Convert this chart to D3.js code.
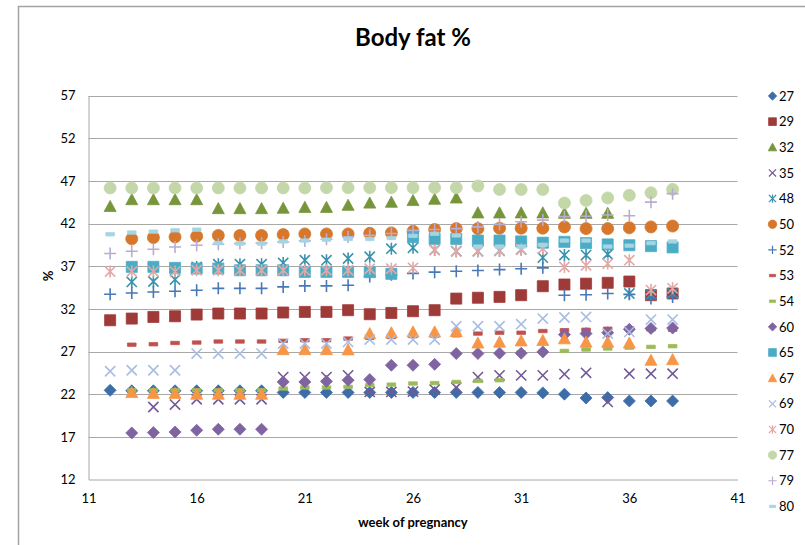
<!DOCTYPE html>
<html>
<head>
<meta charset="utf-8">
<script src="https://cdn.jsdelivr.net/npm/d3@7"></script>
<style>
  body { margin: 0; background: #fff; }
  text { font-family: Lato, "Liberation Sans", sans-serif; fill: #000; }
</style>
</head>
<body>
<svg id="chart" width="805" height="545"></svg>
<script>
// Week of pregnancy for every measurement column
const weeks = [12, 13, 14, 15, 16, 17, 18, 19, 20, 21, 22, 23, 24, 25, 26, 27, 28, 29, 30, 31, 32, 33, 34, 35, 36, 37, 38];

// Body fat % per subject, one value per week (null = not measured)
const s27 = [22.45, 22.4, 22.4, 22.4, 22.4, 22.4, 22.4, 22.4, 22.2, 22.2, 22.2, 22.2, 22.2, 22.2, 22.2, 22.2, 22.2, 22.2, 22.2, 22.2, 22.15, 22.0, 21.55, 21.6, 21.2, 21.2, 21.2];
const s29 = [30.66, 30.86, 31.05, 31.13, 31.33, 31.45, 31.45, 31.45, 31.57, 31.64, 31.64, 31.84, 31.37, 31.52, 31.72, 31.84, 33.2, 33.3, 33.4, 33.6, 34.65, 34.85, 34.95, 35.05, 35.2, 33.6, 33.8];
const s32 = [44.0, 44.8, 44.8, 44.8, 44.8, 43.75, 43.75, 43.75, 43.8, 43.9, 43.9, 44.14, 44.4, 44.5, 44.7, 44.85, 45.0, 43.25, 43.25, 43.25, 43.25, 43.2, 43.2, 43.2, null, null, null];
const s35 = [null, null, 20.5, 20.78, 21.4, 21.4, 21.4, 21.4, 24.0, 24.0, 24.0, 24.2, 22.26, 22.26, 22.3, 22.54, 22.78, 24.0, 24.2, 24.2, 24.2, 24.35, 24.5, 21.1, 24.4, 24.4, 24.4];
const s48 = [null, 35.15, 35.2, 35.43, 36.9, 37.23, 37.23, 37.23, 37.38, 37.7, 37.7, 37.9, 38.1, 39.05, 39.15, 38.9, 38.75, 38.75, 38.8, 38.95, 38.0, 38.3, 38.3, 38.4, 33.8, 33.7, 33.8];
const s50 = [null, 40.2, 40.35, 40.43, 40.5, 40.6, 40.6, 40.6, 40.7, 40.78, 40.78, 40.78, 40.85, 40.9, 41.1, 41.3, 41.4, 41.4, 41.45, 41.45, 41.45, 41.6, 41.4, 41.4, 41.5, 41.6, 41.7];
const s52 = [33.71, 33.86, 33.98, 34.06, 34.18, 34.4, 34.4, 34.4, 34.57, 34.69, 34.69, 34.77, 35.8, 36.0, 36.15, 36.3, 36.4, 36.5, 36.6, 36.7, 36.8, 33.6, 33.65, 33.8, 33.7, 33.2, 33.4];
const s53 = [null, 27.8, 27.85, 28.0, 28.05, 28.17, 28.17, 28.17, 28.25, 28.32, 28.32, 28.52, 28.6, 28.7, 28.8, 28.85, 28.9, 29.1, 29.2, 29.2, 29.4, 29.5, 29.55, 29.67, 29.7, 29.6, 29.55];
const s54 = [null, 22.46, 22.46, 22.46, 22.46, 22.46, 22.46, 22.46, 22.66, 22.78, 22.78, 22.85, 23.05, 23.12, 23.25, 23.3, 23.43, 23.55, 23.63, 26.9, 27.0, 27.07, 27.23, 27.35, 27.45, 27.54, 27.62];
const s60 = [null, 17.46, 17.5, 17.57, 17.77, 17.89, 17.89, 17.89, 23.43, 23.43, 23.5, 23.63, 23.71, 25.39, 25.39, 25.5, 26.76, 26.76, 26.8, 26.8, 26.95, 28.98, 29.1, 29.2, 29.6, 29.7, 29.75];
const s65 = [null, 36.92, 36.92, 36.8, 36.72, 36.72, 36.52, 36.52, 36.52, 36.33, 36.33, 36.33, 36.3, 36.1, 40.4, 40.2, 40.2, 40.0, 40.0, 39.9, 39.75, 39.85, 39.7, 39.55, 39.45, 39.35, 39.2];
const s67 = [null, 22.2, 22.1, 22.1, 22.0, 22.0, 22.0, 22.0, 27.23, 27.23, 27.23, 27.2, 29.1, 29.2, 29.3, 29.3, 29.35, 28.0, 28.1, 28.25, 28.3, 28.5, 28.1, 28.1, 28.0, 25.98, 26.05];
const s69 = [24.69, 24.8, 24.8, 24.8, 26.76, 26.76, 26.76, 26.76, 27.93, 27.93, 27.93, 28.12, 28.4, 28.4, 28.4, 28.4, 29.96, 29.96, 29.96, 30.2, 30.86, 30.98, 31.05, 29.1, 29.3, 30.74, 30.74];
const s70 = [36.37, 36.37, 36.37, 36.37, 36.52, 36.52, 36.52, 36.52, 36.52, 36.52, 36.52, 36.52, 36.7, 36.7, 36.8, 38.9, 38.75, 38.75, 38.8, 38.95, 39.05, 36.9, 37.1, 37.3, 37.7, 34.2, 34.4];
const s77 = [46.17, 46.17, 46.17, 46.17, 46.17, 46.17, 46.17, 46.17, 46.17, 46.17, 46.2, 46.2, 46.2, 46.2, 46.2, 46.2, 46.2, 46.4, 45.98, 45.98, 45.98, 44.4, 44.7, 45.0, 45.3, 45.6, 46.0];
const s79 = [38.48, 38.75, 38.98, 39.25, 39.45, 39.57, 39.65, 39.7, 39.84, 39.96, 40.16, 40.43, 40.63, 40.82, 41.2, 41.3, 41.4, 41.6, 41.9, 42.2, 42.4, 42.8, 42.85, 43.0, 42.9, 44.5, 45.5];
const s80 = [40.74, 40.94, 41.05, 41.2, 41.28, 39.7, 39.65, 39.65, 39.9, 40.0, 40.1, 40.2, 40.2, 40.3, 40.55, 40.8, 40.6, 39.3, 39.3, 39.3, 39.5, 40.0, 40.0, 39.3, 39.4, 39.7, 39.9];

const seriesNames = ["27", "29", "32", "35", "48", "50", "52", "53", "54", "60", "65", "67", "69", "70", "77", "79", "80"];
const seriesValues = [s27, s29, s32, s35, s48, s50, s52, s53, s54, s60, s65, s67, s69, s70, s77, s79, s80];

const yTicks = [12, 17, 22, 27, 32, 37, 42, 47, 52, 57];
const xTicks = [11, 16, 21, 26, 31, 36, 41];

const chartTitle = "Body fat %";
const xTitle = "week of pregnancy";
const yTitle = "%";

// Marker look for each series, in series order
const markerStyle = [
  { shape: "diamond",  color: "#3D6DA8" },
  { shape: "square",   color: "#9E3B38" },
  { shape: "triangle", color: "#77953B" },
  { shape: "x",        color: "#725996" },
  { shape: "asterisk", color: "#3A93AB" },
  { shape: "circle",   color: "#D6772B" },
  { shape: "plus",     color: "#4778B8" },
  { shape: "dash",     color: "#C0504D" },
  { shape: "dash",     color: "#9BBB59" },
  { shape: "diamond",  color: "#8064A2" },
  { shape: "square",   color: "#4BACC6" },
  { shape: "triangle", color: "#F79646" },
  { shape: "x",        color: "#A9BCE2" },
  { shape: "asterisk", color: "#E3A8A6" },
  { shape: "circle",   color: "#C4D7A9" },
  { shape: "plus",     color: "#B9ACD0" },
  { shape: "dash",     color: "#A5D5E3" }
];

const svg = d3.select("#chart");
svg.append("rect").attr("width", 805).attr("height", 545).attr("fill", "#fff");

// outer chart frame (top and left edges)
svg.append("path")
  .attr("d", "M18.5,545 V6.5 H805")
  .attr("fill", "none").attr("stroke", "#a3a3a3").attr("stroke-width", 1.5);

const x = d3.scaleLinear().domain([11, 41]).range([88.5, 737.5]);
const y = d3.scaleLinear().domain([12, 57]).range([479.5, 95.5]);

// horizontal gridlines
svg.append("g")
  .selectAll("line")
  .data(yTicks.filter(t => t !== 12))
  .join("line")
  .attr("x1", x(11)).attr("x2", x(41))
  .attr("y1", d => Math.round(y(d)) + 0.5).attr("y2", d => Math.round(y(d)) + 0.5)
  .attr("stroke", "#a8a8a8").attr("stroke-width", 1);

// axes
const yAxis = d3.axisLeft(y).tickValues(yTicks).tickSize(0).tickPadding(13).tickFormat(d3.format("d"));
const gy = svg.append("g").attr("transform", `translate(${x(11)},0)`).call(yAxis);
gy.select(".domain").attr("stroke", "#a8a8a8");
gy.selectAll("text").attr("font-size", 13).attr("font-family", "Lato, sans-serif").attr("fill", "#000");

const xAxis = d3.axisBottom(x).tickValues(xTicks).tickSize(0).tickPadding(14).tickFormat(d3.format("d"));
const gx = svg.append("g").attr("transform", `translate(0,${y(12)})`).call(xAxis);
gx.select(".domain").attr("stroke", "#a8a8a8");
gx.selectAll("text").attr("font-size", 13).attr("font-family", "Lato, sans-serif").attr("fill", "#000");

// marker path builders (r = half-size in px)
function markerPath(shape, r) {
  const p = d3.path();
  switch (shape) {
    case "diamond":
      p.moveTo(0, -r); p.lineTo(r, 0); p.lineTo(0, r); p.lineTo(-r, 0); p.closePath(); break;
    case "square":
      p.rect(-r * 0.92, -r * 0.92, r * 1.84, r * 1.84); break;
    case "triangle":
      p.moveTo(0, -r); p.lineTo(r, r * 0.85); p.lineTo(-r, r * 0.85); p.closePath(); break;
    case "circle":
      p.arc(0, 0, r, 0, 2 * Math.PI); break;
    case "x":
      p.moveTo(-r * 0.85, -r * 0.85); p.lineTo(r * 0.85, r * 0.85);
      p.moveTo(-r * 0.85, r * 0.85); p.lineTo(r * 0.85, -r * 0.85); break;
    case "asterisk":
      p.moveTo(-r * 0.85, -r * 0.85); p.lineTo(r * 0.85, r * 0.85);
      p.moveTo(-r * 0.85, r * 0.85); p.lineTo(r * 0.85, -r * 0.85);
      p.moveTo(0, -r); p.lineTo(0, r); break;
    case "plus":
      p.moveTo(-r, 0); p.lineTo(r, 0); p.moveTo(0, -r); p.lineTo(0, r); break;
    case "dash":
      p.rect(-r * 0.72, -r * 0.28, r * 1.44, r * 0.56); break;
  }
  return p.toString();
}
const strokeOnly = new Set(["x", "asterisk", "plus"]);

function styleMarker(sel, st, scale) {
  if (strokeOnly.has(st.shape)) {
    sel.attr("fill", "none").attr("stroke", st.color).attr("stroke-width", 1.6 * scale);
  } else {
    sel.attr("fill", st.color).attr("stroke", st.color).attr("stroke-width", 0.8);
  }
}

// points for every series, drawn in legend order
const plot = svg.append("g");
seriesValues.forEach((vals, i) => {
  const st = markerStyle[i];
  const pts = weeks.map((w, j) => ({ w, v: vals[j] })).filter(d => d.v != null);
  const g = plot.append("g").attr("class", "series-" + seriesNames[i]);
  g.selectAll("path")
    .data(pts)
    .join("path")
    .attr("d", markerPath(st.shape, 6))
    .attr("transform", d => `translate(${x(d.w)},${y(d.v)})`)
    .call(styleMarker, st, 1);
});

// legend
const legend = svg.append("g");
seriesNames.forEach((name, i) => {
  const st = markerStyle[i];
  const ly = 96 + i * 25.65;
  legend.append("path")
    .attr("d", markerPath(st.shape, 4.2))
    .attr("transform", `translate(772.5,${ly})`)
    .call(styleMarker, st, 0.75);
  legend.append("text")
    .attr("x", 779).attr("y", ly).attr("dy", "0.36em")
    .attr("font-size", 13)
    .text(name);
});

// titles
svg.append("text")
  .attr("x", 413).attr("y", 46)
  .attr("text-anchor", "middle")
  .attr("font-size", 24).attr("font-weight", "bold")
  .text(chartTitle);

svg.append("text")
  .attr("x", 413).attr("y", 527)
  .attr("text-anchor", "middle")
  .attr("font-size", 13).attr("font-weight", "bold")
  .text(xTitle);

svg.append("text")
  .attr("transform", "translate(53,276) rotate(-90)")
  .attr("text-anchor", "middle")
  .attr("font-size", 13).attr("font-weight", "bold")
  .text(yTitle);
</script>
</body>
</html>
